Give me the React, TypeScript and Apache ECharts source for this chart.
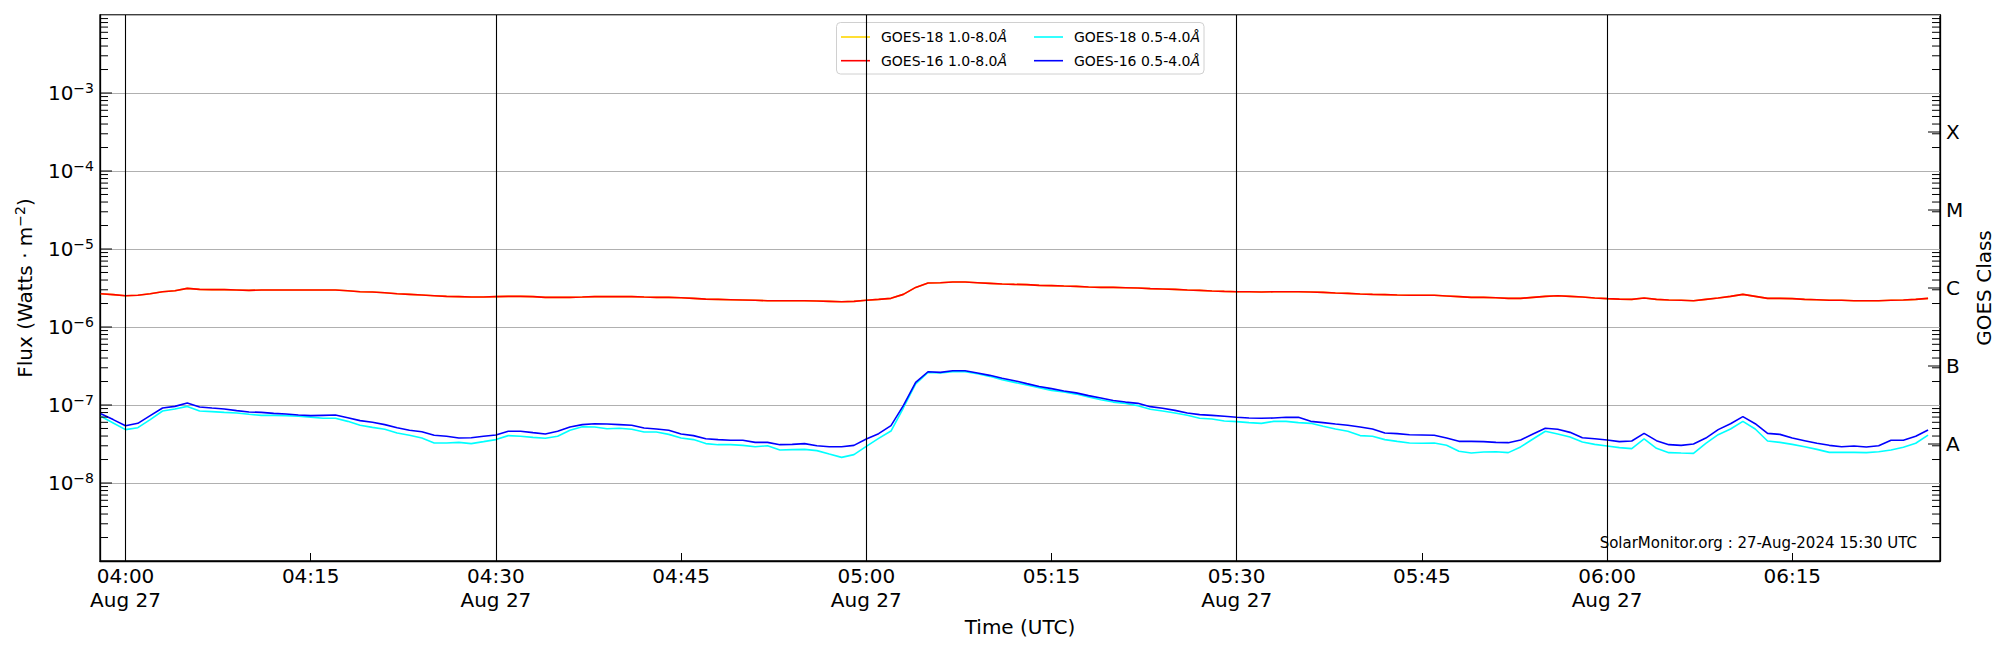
import { useEffect, useRef } from "react";
import * as echarts from "echarts";

const FONT = "DejaVu Sans";

// GOES 1-minute samples, first sample at 03:58 UTC on 27 Aug 2024
const firstSampleUTC = Date.UTC(2024, 7, 27, 3, 58);
const cadenceMs = 60000;
const axisStartUTC = Date.UTC(2024, 7, 27, 3, 57, 56);
const axisEndUTC = Date.UTC(2024, 7, 27, 6, 26, 58);

const NAME_18_LONG = "GOES-18 1.0-8.0Å";
const NAME_16_LONG = "GOES-16 1.0-8.0Å";
const NAME_18_SHORT = "GOES-18 0.5-4.0Å";
const NAME_16_SHORT = "GOES-16 0.5-4.0Å";

// GOES-16 1.0-8.0 Å flux (W/m^2)
const goes16Long = [
  2.67e-6, 2.6e-6, 2.52e-6, 2.55e-6, 2.67e-6, 2.83e-6, 2.92e-6, 3.13e-6, 3.04e-6, 3.01e-6, 3.01e-6, 2.98e-6,
  2.95e-6, 2.98e-6, 2.98e-6, 2.98e-6, 2.98e-6, 2.98e-6, 2.98e-6, 2.98e-6, 2.92e-6, 2.83e-6,
  2.81e-6, 2.75e-6, 2.67e-6, 2.62e-6, 2.57e-6, 2.52e-6, 2.47e-6, 2.45e-6, 2.42e-6, 2.42e-6,
  2.45e-6, 2.47e-6, 2.47e-6, 2.45e-6, 2.4e-6, 2.4e-6, 2.4e-6, 2.42e-6, 2.45e-6, 2.45e-6,
  2.45e-6, 2.45e-6, 2.42e-6, 2.4e-6, 2.4e-6, 2.37e-6, 2.33e-6, 2.28e-6, 2.26e-6, 2.24e-6,
  2.22e-6, 2.2e-6, 2.17e-6, 2.17e-6, 2.17e-6, 2.17e-6, 2.15e-6, 2.13e-6, 2.11e-6, 2.13e-6,
  2.2e-6, 2.26e-6, 2.33e-6, 2.62e-6, 3.22e-6, 3.66e-6, 3.7e-6, 3.77e-6, 3.77e-6, 3.7e-6,
  3.63e-6, 3.56e-6, 3.52e-6, 3.49e-6, 3.42e-6, 3.39e-6, 3.35e-6, 3.32e-6, 3.26e-6, 3.22e-6,
  3.22e-6, 3.19e-6, 3.16e-6, 3.1e-6, 3.07e-6, 3.04e-6, 2.98e-6, 2.95e-6, 2.9e-6, 2.86e-6,
  2.83e-6, 2.83e-6, 2.81e-6, 2.83e-6, 2.83e-6, 2.83e-6, 2.81e-6, 2.78e-6, 2.73e-6, 2.7e-6,
  2.65e-6, 2.62e-6, 2.6e-6, 2.57e-6, 2.55e-6, 2.55e-6, 2.55e-6, 2.5e-6, 2.45e-6, 2.4e-6,
  2.4e-6, 2.37e-6, 2.33e-6, 2.33e-6, 2.4e-6, 2.47e-6, 2.52e-6, 2.47e-6, 2.42e-6, 2.35e-6,
  2.31e-6, 2.28e-6, 2.26e-6, 2.35e-6, 2.26e-6, 2.22e-6, 2.2e-6, 2.17e-6, 2.26e-6, 2.35e-6,
  2.47e-6, 2.62e-6, 2.47e-6, 2.33e-6, 2.33e-6, 2.31e-6, 2.26e-6, 2.24e-6, 2.2e-6, 2.2e-6,
  2.17e-6, 2.17e-6, 2.17e-6, 2.2e-6, 2.22e-6, 2.26e-6, 2.33e-6,
];

// GOES-18 1.0-8.0 Å: lies on top of the GOES-16 curve within a pixel in the picture
const goes18Long = goes16Long;

// GOES-16 0.5-4.0 Å flux (W/m^2)
const goes16Short = [
  7.74e-8, 6.5e-8, 5.43e-8, 5.82e-8, 7.3e-8, 9.15e-8, 9.6e-8, 1.06e-7, 9.43e-8, 9.15e-8, 8.89e-8, 8.46e-8,
  8.13e-8, 8.05e-8, 7.82e-8, 7.67e-8, 7.45e-8, 7.3e-8, 7.37e-8, 7.45e-8, 6.88e-8, 6.3e-8,
  6.0e-8, 5.6e-8, 5.12e-8, 4.74e-8, 4.55e-8, 4.1e-8, 3.97e-8, 3.77e-8, 3.8e-8, 3.97e-8,
  4.13e-8, 4.6e-8, 4.6e-8, 4.42e-8, 4.25e-8, 4.6e-8, 5.22e-8, 5.6e-8, 5.76e-8, 5.7e-8,
  5.6e-8, 5.5e-8, 5.07e-8, 4.93e-8, 4.74e-8, 4.25e-8, 4.05e-8, 3.7e-8, 3.6e-8, 3.53e-8,
  3.53e-8, 3.32e-8, 3.32e-8, 3.1e-8, 3.13e-8, 3.2e-8, 3.0e-8, 2.92e-8, 2.92e-8, 3.04e-8,
  3.67e-8, 4.29e-8, 5.43e-8, 9.8e-8, 1.95e-7, 2.67e-7, 2.62e-7, 2.75e-7, 2.75e-7, 2.57e-7,
  2.4e-7, 2.2e-7, 2.05e-7, 1.88e-7, 1.73e-7, 1.62e-7, 1.51e-7, 1.43e-7, 1.32e-7, 1.23e-7,
  1.14e-7, 1.09e-7, 1.05e-7, 9.52e-8, 9.07e-8, 8.54e-8, 7.9e-8, 7.52e-8, 7.37e-8, 7.16e-8,
  6.95e-8, 6.81e-8, 6.75e-8, 6.81e-8, 6.95e-8, 6.95e-8, 6.17e-8, 5.94e-8, 5.7e-8, 5.5e-8,
  5.22e-8, 4.93e-8, 4.37e-8, 4.29e-8, 4.16e-8, 4.13e-8, 4.09e-8, 3.77e-8, 3.42e-8, 3.42e-8,
  3.39e-8, 3.32e-8, 3.29e-8, 3.56e-8, 4.25e-8, 5.03e-8, 4.88e-8, 4.46e-8, 3.81e-8, 3.7e-8,
  3.56e-8, 3.39e-8, 3.46e-8, 4.33e-8, 3.49e-8, 3.1e-8, 3.04e-8, 3.16e-8, 3.77e-8, 4.83e-8,
  5.76e-8, 7.09e-8, 5.76e-8, 4.33e-8, 4.2e-8, 3.77e-8, 3.49e-8, 3.23e-8, 3.04e-8, 2.92e-8,
  2.98e-8, 2.9e-8, 3.0e-8, 3.53e-8, 3.53e-8, 3.97e-8, 4.78e-8,
];

// GOES-18 0.5-4.0 Å flux (W/m^2)
const goes18Short = [
  7.16e-8, 5.88e-8, 4.83e-8, 5.12e-8, 6.5e-8, 8.38e-8, 8.89e-8, 9.6e-8, 8.38e-8, 8.22e-8, 8.05e-8, 7.9e-8,
  7.6e-8, 7.37e-8, 7.37e-8, 7.3e-8, 7.16e-8, 7.0e-8, 6.75e-8, 6.75e-8, 6.17e-8, 5.5e-8,
  5.17e-8, 4.88e-8, 4.37e-8, 4.1e-8, 3.77e-8, 3.26e-8, 3.26e-8, 3.32e-8, 3.2e-8, 3.39e-8,
  3.6e-8, 4.05e-8, 3.97e-8, 3.85e-8, 3.74e-8, 3.97e-8, 4.74e-8, 5.27e-8, 5.22e-8, 4.97e-8,
  5.03e-8, 4.88e-8, 4.5e-8, 4.5e-8, 4.2e-8, 3.77e-8, 3.6e-8, 3.2e-8, 3.1e-8, 3.1e-8,
  3.04e-8, 2.92e-8, 3.0e-8, 2.65e-8, 2.68e-8, 2.7e-8, 2.6e-8, 2.35e-8, 2.13e-8, 2.31e-8,
  2.95e-8, 3.74e-8, 4.64e-8, 9.15e-8, 1.86e-7, 2.62e-7, 2.57e-7, 2.67e-7, 2.67e-7, 2.52e-7,
  2.33e-7, 2.11e-7, 1.95e-7, 1.8e-7, 1.67e-7, 1.54e-7, 1.47e-7, 1.38e-7, 1.27e-7, 1.17e-7,
  1.09e-7, 1.05e-7, 9.8e-8, 8.8e-8, 8.38e-8, 7.9e-8, 7.37e-8, 6.75e-8, 6.61e-8, 6.23e-8,
  6.12e-8, 5.94e-8, 5.82e-8, 6.17e-8, 6.17e-8, 5.94e-8, 5.82e-8, 5.33e-8, 4.93e-8, 4.6e-8,
  4.05e-8, 3.97e-8, 3.6e-8, 3.42e-8, 3.26e-8, 3.23e-8, 3.26e-8, 3.04e-8, 2.55e-8, 2.42e-8,
  2.5e-8, 2.52e-8, 2.45e-8, 2.9e-8, 3.67e-8, 4.6e-8, 4.25e-8, 3.89e-8, 3.35e-8, 3.13e-8,
  2.98e-8, 2.84e-8, 2.76e-8, 3.67e-8, 2.78e-8, 2.45e-8, 2.42e-8, 2.4e-8, 3.23e-8, 4.16e-8,
  4.93e-8, 6.17e-8, 4.93e-8, 3.46e-8, 3.32e-8, 3.13e-8, 2.92e-8, 2.7e-8, 2.47e-8, 2.47e-8,
  2.47e-8, 2.45e-8, 2.52e-8, 2.65e-8, 2.87e-8, 3.23e-8, 4.1e-8,
];

// x tick labels (UTC) and the black hour/half-hour lines
const xTickTimes = ["04:00", "04:15", "04:30", "04:45", "05:00", "05:15", "05:30", "05:45", "06:00", "06:15"];
const verticalLineTimes = ["04:00", "04:30", "05:00", "05:30", "06:00"];

// right-hand GOES class labels at half decades
const classLetters = ["A", "B", "C", "M", "X"];
const classExponents = [-7.5, -6.5, -5.5, -4.5, -3.5];

const yMin = 1e-9;
const yMax = 1e-2;

const MONTHS = ["Jan", "Feb", "Mar", "Apr", "May", "Jun", "Jul", "Aug", "Sep", "Oct", "Nov", "Dec"];

function hhmmToUTC(s: string): number {
  const [h, m] = s.split(":").map(Number);
  return Date.UTC(2024, 7, 27, h, m);
}

function pad2(n: number): string {
  return n < 10 ? "0" + n : String(n);
}

export default function App() {
  const ref = useRef<HTMLDivElement>(null);

  useEffect(() => {
    document.body.style.margin = "0";
    if (!ref.current) return;
    const chart = echarts.init(ref.current, undefined, { renderer: "svg" });

    const times = goes16Long.map((_, i) => firstSampleUTC + i * cadenceMs);
    const toData = (arr: number[]) => arr.map((v, i) => [times[i], v]);

    const xTicks = xTickTimes.map(hhmmToUTC);
    const vLines = verticalLineTimes.map(hhmmToUTC);
    const classValues = classExponents.map((e) => Math.pow(10, e));

    // y-axis tick marks drawn inside the frame: [x, value, length, side] side 0 left, 1 right, 2 both
    const tickData: number[][] = [];
    for (let k = -9; k <= -3; k++) {
      for (let m = 2; m <= 9; m++) tickData.push([axisStartUTC, m * Math.pow(10, k), 8, 2]);
    }
    for (let k = -8; k <= -3; k++) tickData.push([axisStartUTC, Math.pow(10, k), 12, 0]);
    classValues.forEach((v) => tickData.push([axisStartUTC, v, 12, 1]));

    const supRich = {
      b: { fontSize: 20, fontFamily: FONT, lineHeight: 24, color: "#000" },
      s: { fontSize: 14, fontFamily: FONT, lineHeight: 12, verticalAlign: "top", color: "#000" },
    };

    const legendBase = {
      orient: "vertical",
      top: 29,
      padding: 0,
      itemGap: 7.7,
      itemWidth: 29,
      itemHeight: 1.6,
      icon: "rect",
      selectedMode: false,
      formatter: (n: string) => "{n|" + n.replace("Å", "}{i|Å}"),
      textStyle: {
        fontFamily: FONT,
        fontSize: 14,
        lineHeight: 16,
        color: "#000",
        padding: [0, 0, 0, 6],
        rich: {
          n: { fontFamily: FONT, fontSize: 14, lineHeight: 16, color: "#000" },
          i: { fontStyle: "italic", fontFamily: FONT, fontSize: 14, lineHeight: 16, color: "#000" },
        },
      },
    };

    const lineSeries = (name: string, arr: number[], color: string, extra: any = {}) => ({
      name,
      type: "line",
      data: toData(arr),
      symbol: "none",
      showSymbol: false,
      lineStyle: { color, width: 1.6 },
      itemStyle: { color },
      emphasis: { disabled: true },
      silent: true,
      ...extra,
    });

    const option: any = {
      animation: false,
      backgroundColor: "#ffffff",
      textStyle: { fontFamily: FONT },
      grid: {
        left: 100,
        right: 60,
        top: 15,
        bottom: 89,
        show: true,
        borderColor: "#000",
        borderWidth: 1.3,
        backgroundColor: "transparent",
        containLabel: false,
        outerBoundsMode: "none",
      },
      legend: [
        { ...legendBase, left: 841, data: [NAME_18_LONG, NAME_16_LONG] },
        { ...legendBase, left: 1034, data: [NAME_18_SHORT, NAME_16_SHORT] },
      ],
      graphic: [
        {
          type: "rect",
          z: 0,
          shape: { x: 836.5, y: 22.5, width: 367.5, height: 51.5, r: 4 },
          style: { fill: "#ffffff", stroke: "#d0d0d0", lineWidth: 1 },
          silent: true,
        },
        {
          type: "text",
          x: 1917,
          y: 543,
          z: 10,
          silent: true,
          style: {
            text: "SolarMonitor.org : 27-Aug-2024 15:30 UTC",
            fontSize: 15,
            fontFamily: FONT,
            fill: "#000",
            align: "right",
            verticalAlign: "middle",
          },
        },
      ],
      xAxis: {
        type: "value",
        min: axisStartUTC,
        max: axisEndUTC,
        scale: true,
        axisLine: { show: true, lineStyle: { color: "#000", width: 1.3 } },
        axisTick: {
          show: true,
          inside: true,
          length: 8,
          customValues: xTicks,
          lineStyle: { color: "#000", width: 1 },
        },
        axisLabel: {
          customValues: xTicks,
          fontSize: 20,
          fontFamily: FONT,
          color: "#000",
          lineHeight: 24,
          margin: 3,
          hideOverlap: false,
          formatter: (v: number) => {
            const d = new Date(v);
            const hm = pad2(d.getUTCHours()) + ":" + pad2(d.getUTCMinutes());
            return d.getUTCMinutes() % 30 === 0 ? hm + "\n" + MONTHS[d.getUTCMonth()] + " " + d.getUTCDate() : hm;
          },
        },
        splitLine: { show: false },
        name: "Time (UTC)",
        nameLocation: "middle",
        nameGap: 51,
        nameTextStyle: { fontSize: 20, fontFamily: FONT, color: "#000" },
      },
      yAxis: [
        {
          type: "log",
          logBase: 10,
          min: yMin,
          max: yMax,
          position: "left",
          axisLine: { show: true, lineStyle: { color: "#000", width: 1.3 } },
          axisTick: { show: false },
          splitLine: { show: true, lineStyle: { color: "#b0b0b0", width: 1 } },
          axisLabel: {
            margin: 6,
            color: "#000",
            formatter: (v: number) => {
              const e = Math.round(Math.log10(v));
              if (e <= -9 || e >= -2) return "";
              return "{b|10}{s|−" + -e + "}";
            },
            rich: supRich,
          },
          name: "{b|Flux (Watts · m}{s|−2}{b|)}",
          nameLocation: "middle",
          nameRotate: 90,
          nameGap: 63,
          nameTextStyle: { rich: supRich },
        },
        {
          type: "log",
          logBase: 10,
          min: yMin,
          max: yMax,
          position: "right",
          axisLine: { show: true, lineStyle: { color: "#000", width: 1.3 } },
          axisTick: { show: false },
          splitLine: { show: false },
          axisLabel: {
            customValues: classValues,
            margin: 6,
            fontSize: 20,
            fontFamily: FONT,
            color: "#000",
            formatter: (v: number) => {
              const lv = Math.log10(v);
              const idx = classExponents.findIndex((e) => Math.abs(e - lv) < 0.05);
              return idx >= 0 ? classLetters[idx] : "";
            },
          },
          name: "GOES Class",
          nameLocation: "middle",
          nameRotate: 90,
          nameGap: 23,
          nameTextStyle: { fontSize: 20, fontFamily: FONT, color: "#000" },
        },
      ],
      series: [
        lineSeries(NAME_18_LONG, goes18Long, "#ffd700", {
          z: 2,
          markLine: {
            silent: true,
            symbol: ["none", "none"],
            label: { show: false },
            emphasis: { disabled: true },
            lineStyle: { color: "#000", width: 1.1, type: "solid" },
            data: vLines.map((t) => ({ xAxis: t })),
          },
        }),
        lineSeries(NAME_16_LONG, goes16Long, "#ff0000", { z: 3 }),
        lineSeries(NAME_18_SHORT, goes18Short, "#00ffff", { z: 3 }),
        lineSeries(NAME_16_SHORT, goes16Short, "#0000ff", { z: 4 }),
        {
          type: "custom",
          silent: true,
          z: 5,
          data: tickData,
          encode: { x: 0, y: 1 },
          renderItem: (_params: any, api: any) => {
            const v = api.value(1);
            const len = api.value(2);
            const side = api.value(3);
            const a = api.coord([axisStartUTC, v]);
            const b = api.coord([axisEndUTC, v]);
            const children: any[] = [];
            if (side === 0 || side === 2) {
              children.push({
                type: "line",
                shape: { x1: a[0], y1: a[1], x2: a[0] + len, y2: a[1] },
                style: { stroke: "#000", lineWidth: 1 },
              });
            }
            if (side === 1 || side === 2) {
              children.push({
                type: "line",
                shape: { x1: b[0] - len, y1: b[1], x2: b[0], y2: b[1] },
                style: { stroke: "#000", lineWidth: 1 },
              });
            }
            return { type: "group", children };
          },
        },
      ],
    };

    chart.setOption(option);
    return () => chart.dispose();
  }, []);

  return <div ref={ref} style={{ width: 2000, height: 650 }} />;
}
